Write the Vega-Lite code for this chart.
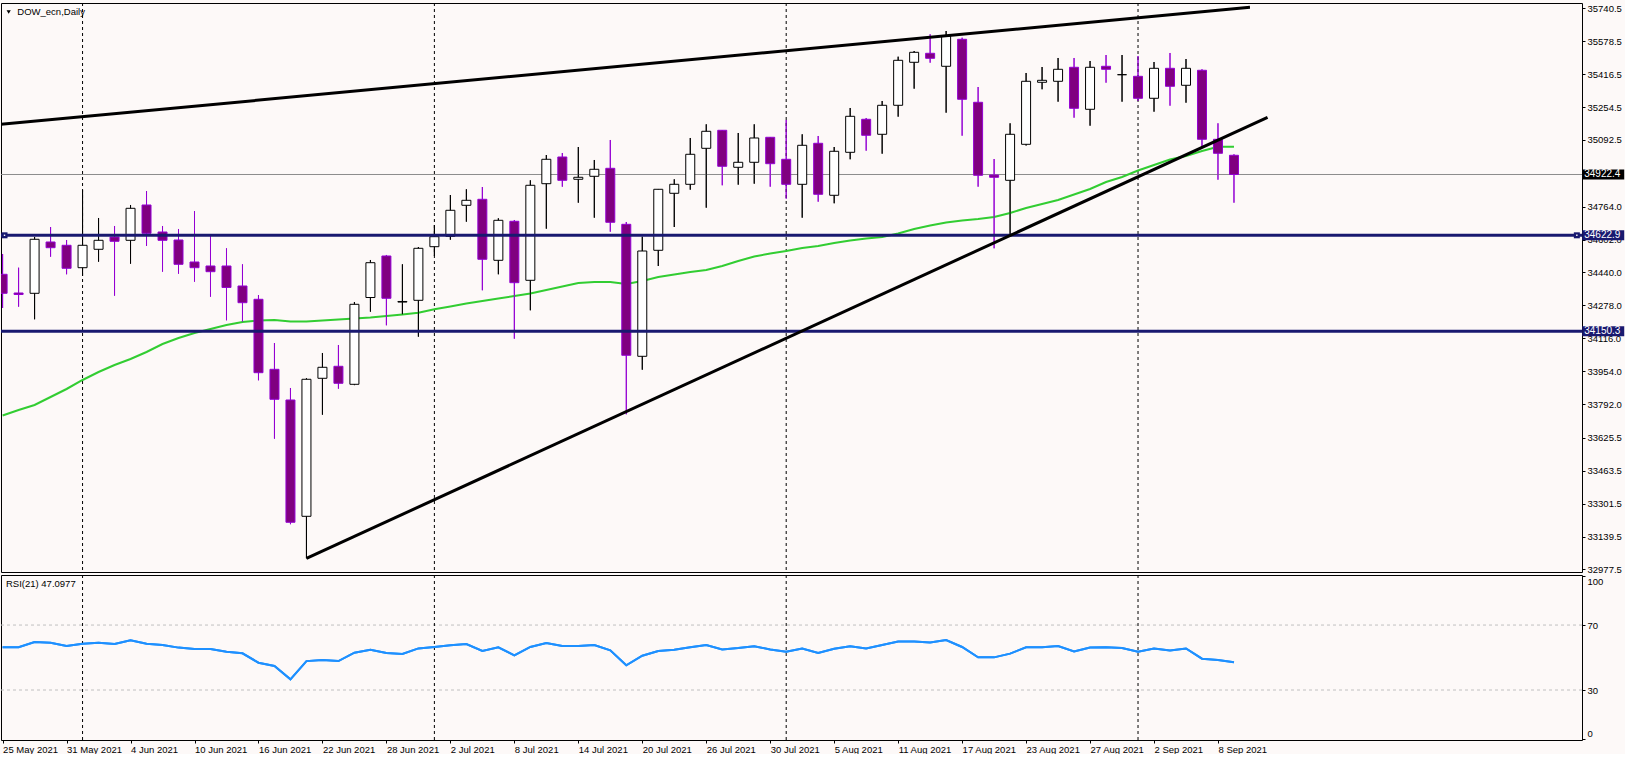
{
  "$schema": "https://vega.github.io/schema/vega-lite/v6.json",
  "background": "#FDF9F8",
  "padding": {"left": -1.0, "top": 2, "right": 0, "bottom": 0},
  "autosize": {"type": "pad"},
  "spacing": 3,
  "bounds": "flush",
  "config": {
    "view": {"stroke": "black", "strokeWidth": 1},
    "axis": {"labelFont": "Liberation Sans", "labelFontSize": 9.5, "labelColor": "black", "tickColor": "black", "tickWidth": 1, "grid": false, "domain": false, "labelOverlap": false, "labelBound": false},
    "scale": {"continuousPadding": 0},
    "text": {"font": "Liberation Sans"}
  },
  "datasets": {
    "bars": [
      {"i":0,"date":"2021-05-25","o":34430.9,"h":34530.9,"l":34264.9,"c":34337.3,"ma":33735.5,"rsi":56.3},
      {"i":1,"date":"2021-05-26","o":34338.8,"h":34463.4,"l":34271.3,"c":34331.4,"ma":33762.6,"rsi":56.3},
      {"i":2,"date":"2021-05-27","o":34337.3,"h":34614.6,"l":34209.3,"c":34603.3,"ma":33787.2,"rsi":59.5},
      {"i":3,"date":"2021-05-28","o":34590.0,"h":34663.8,"l":34517.6,"c":34561.9,"ma":33826.6,"rsi":59.1},
      {"i":4,"date":"2021-05-31","o":34573.7,"h":34599.8,"l":34430.9,"c":34460.4,"ma":33866.0,"rsi":57.1},
      {"i":5,"date":"2021-06-01","o":34463.4,"h":34846.1,"l":34422.5,"c":34573.7,"ma":33910.3,"rsi":58.5},
      {"i":6,"date":"2021-06-02","o":34554.0,"h":34708.2,"l":34492.9,"c":34598.3,"ma":33949.7,"rsi":59.1},
      {"i":7,"date":"2021-06-03","o":34614.6,"h":34668.8,"l":34325.5,"c":34593.4,"ma":33984.2,"rsi":58.3},
      {"i":8,"date":"2021-06-04","o":34598.3,"h":34772.2,"l":34483.1,"c":34755.9,"ma":34013.7,"rsi":60.6},
      {"i":9,"date":"2021-06-07","o":34772.2,"h":34841.1,"l":34570.3,"c":34632.8,"ma":34048.2,"rsi":58.5},
      {"i":10,"date":"2021-06-08","o":34639.2,"h":34668.8,"l":34443.7,"c":34598.3,"ma":34087.6,"rsi":57.7},
      {"i":11,"date":"2021-06-09","o":34599.8,"h":34654.0,"l":34433.8,"c":34480.1,"ma":34117.2,"rsi":56.1},
      {"i":12,"date":"2021-06-10","o":34491.5,"h":34742.6,"l":34394.4,"c":34463.4,"ma":34141.8,"rsi":55.2},
      {"i":13,"date":"2021-06-11","o":34471.8,"h":34624.4,"l":34320.6,"c":34443.7,"ma":34161.5,"rsi":55.2},
      {"i":14,"date":"2021-06-14","o":34471.8,"h":34558.9,"l":34204.3,"c":34365.9,"ma":34181.2,"rsi":53.6},
      {"i":15,"date":"2021-06-15","o":34373.3,"h":34480.1,"l":34197.4,"c":34291.0,"ma":34196.0,"rsi":52.6},
      {"i":16,"date":"2021-06-16","o":34307.8,"h":34328.9,"l":33908.8,"c":33946.3,"ma":34203.4,"rsi":46.8},
      {"i":17,"date":"2021-06-17","o":33963.0,"h":34092.5,"l":33621.2,"c":33815.3,"ma":34205.8,"rsi":44.8},
      {"i":18,"date":"2021-06-18","o":33811.8,"h":33870.9,"l":33200.0,"c":33209.5,"ma":34198.4,"rsi":36.6},
      {"i":19,"date":"2021-06-21","o":33239.0,"h":33918.7,"l":33032.2,"c":33913.8,"ma":34198.4,"rsi":47.8},
      {"i":20,"date":"2021-06-22","o":33918.7,"h":34043.3,"l":33739.4,"c":33972.9,"ma":34203.4,"rsi":48.5},
      {"i":21,"date":"2021-06-23","o":33977.8,"h":34082.7,"l":33867.5,"c":33894.1,"ma":34208.3,"rsi":47.8},
      {"i":22,"date":"2021-06-24","o":33889.1,"h":34294.5,"l":33885.0,"c":34283.1,"ma":34213.2,"rsi":53.0},
      {"i":23,"date":"2021-06-25","o":34316.6,"h":34501.3,"l":34246.7,"c":34488.0,"ma":34218.1,"rsi":54.8},
      {"i":24,"date":"2021-06-28","o":34521.0,"h":34526.0,"l":34179.7,"c":34312.7,"ma":34225.5,"rsi":52.8},
      {"i":25,"date":"2021-06-29","o":34294.0,"h":34480.1,"l":34233.9,"c":34297.0,"ma":34232.9,"rsi":52.2},
      {"i":26,"date":"2021-06-30","o":34302.8,"h":34565.3,"l":34123.6,"c":34558.9,"ma":34241.8,"rsi":55.6},
      {"i":27,"date":"2021-07-01","o":34566.8,"h":34673.7,"l":34521.0,"c":34616.1,"ma":34258.5,"rsi":56.5},
      {"i":28,"date":"2021-07-02","o":34618.0,"h":34821.4,"l":34601.3,"c":34746.1,"ma":34272.3,"rsi":57.5},
      {"i":29,"date":"2021-07-05","o":34770.7,"h":34849.5,"l":34689.9,"c":34795.3,"ma":34287.1,"rsi":58.3},
      {"i":30,"date":"2021-07-06","o":34800.3,"h":34860.8,"l":34352.1,"c":34504.8,"ma":34299.4,"rsi":54.0},
      {"i":31,"date":"2021-07-07","o":34499.8,"h":34706.7,"l":34430.9,"c":34696.8,"ma":34311.7,"rsi":56.3},
      {"i":32,"date":"2021-07-08","o":34691.9,"h":34698.3,"l":34113.7,"c":34389.5,"ma":34324.0,"rsi":51.3},
      {"i":33,"date":"2021-07-09","o":34401.3,"h":34893.8,"l":34253.6,"c":34869.2,"ma":34336.3,"rsi":56.5},
      {"i":34,"date":"2021-07-12","o":34877.1,"h":35018.4,"l":34655.5,"c":34997.3,"ma":34353.6,"rsi":58.9},
      {"i":35,"date":"2021-07-13","o":35008.6,"h":35028.3,"l":34862.3,"c":34893.8,"ma":34370.8,"rsi":57.1},
      {"i":36,"date":"2021-07-14","o":34898.8,"h":35057.8,"l":34783.5,"c":34908.6,"ma":34388.0,"rsi":57.1},
      {"i":37,"date":"2021-07-15","o":34913.5,"h":34993.8,"l":34709.6,"c":34948.0,"ma":34393.0,"rsi":57.7},
      {"i":38,"date":"2021-07-16","o":34952.9,"h":35092.3,"l":34640.7,"c":34687.0,"ma":34393.0,"rsi":54.4},
      {"i":39,"date":"2021-07-19","o":34677.1,"h":34688.5,"l":33741.4,"c":34032.0,"ma":34383.1,"rsi":45.2},
      {"i":40,"date":"2021-07-20","o":34027.0,"h":34616.1,"l":33961.0,"c":34545.6,"ma":34397.9,"rsi":51.1},
      {"i":41,"date":"2021-07-21","o":34549.1,"h":34851.0,"l":34471.8,"c":34849.5,"ma":34417.6,"rsi":54.0},
      {"i":42,"date":"2021-07-22","o":34829.8,"h":34898.8,"l":34663.8,"c":34874.1,"ma":34429.9,"rsi":54.8},
      {"i":43,"date":"2021-07-23","o":34874.1,"h":35102.2,"l":34847.5,"c":35021.9,"ma":34442.2,"rsi":56.3},
      {"i":44,"date":"2021-07-26","o":35051.4,"h":35169.6,"l":34758.9,"c":35135.2,"ma":34452.1,"rsi":57.7},
      {"i":45,"date":"2021-07-27","o":35140.1,"h":35141.5,"l":34869.2,"c":34962.8,"ma":34471.8,"rsi":55.0},
      {"i":46,"date":"2021-07-28","o":34957.9,"h":35126.8,"l":34872.2,"c":34982.5,"ma":34496.4,"rsi":55.8},
      {"i":47,"date":"2021-07-29","o":34982.5,"h":35169.6,"l":34877.1,"c":35102.2,"ma":34518.5,"rsi":56.9},
      {"i":48,"date":"2021-07-30","o":35105.6,"h":35107.1,"l":34862.3,"c":34975.6,"ma":34533.3,"rsi":55.0},
      {"i":49,"date":"2021-08-02","o":34997.3,"h":35190.8,"l":34803.2,"c":34874.1,"ma":34545.6,"rsi":53.6},
      {"i":50,"date":"2021-08-03","o":34874.1,"h":35120.4,"l":34709.6,"c":35066.2,"ma":34560.4,"rsi":55.6},
      {"i":51,"date":"2021-08-04","o":35076.1,"h":35112.0,"l":34788.4,"c":34824.9,"ma":34570.3,"rsi":52.8},
      {"i":52,"date":"2021-08-05","o":34820.0,"h":35057.8,"l":34780.6,"c":35036.7,"ma":34585.0,"rsi":55.4},
      {"i":53,"date":"2021-08-06","o":35031.7,"h":35249.9,"l":34997.3,"c":35209.0,"ma":34597.3,"rsi":56.9},
      {"i":54,"date":"2021-08-09","o":35194.3,"h":35200.7,"l":35039.6,"c":35115.5,"ma":34607.2,"rsi":55.6},
      {"i":55,"date":"2021-08-10","o":35120.4,"h":35284.4,"l":35024.8,"c":35263.2,"ma":34614.6,"rsi":57.7},
      {"i":56,"date":"2021-08-11","o":35263.2,"h":35502.6,"l":35207.1,"c":35484.8,"ma":34631.8,"rsi":59.9},
      {"i":57,"date":"2021-08-12","o":35475.0,"h":35530.6,"l":35345.0,"c":35524.2,"ma":34654.0,"rsi":59.9},
      {"i":58,"date":"2021-08-13","o":35519.3,"h":35612.9,"l":35473.0,"c":35494.7,"ma":34671.2,"rsi":59.3},
      {"i":59,"date":"2021-08-16","o":35455.3,"h":35629.1,"l":35226.8,"c":35604.5,"ma":34686.0,"rsi":60.8},
      {"i":60,"date":"2021-08-17","o":35588.3,"h":35596.1,"l":35113.5,"c":35292.8,"ma":34695.8,"rsi":56.5},
      {"i":61,"date":"2021-08-18","o":35278.0,"h":35353.3,"l":34862.3,"c":34918.5,"ma":34703.2,"rsi":50.1},
      {"i":62,"date":"2021-08-19","o":34919.9,"h":34998.7,"l":34558.9,"c":34908.6,"ma":34713.1,"rsi":50.1},
      {"i":63,"date":"2021-08-20","o":34893.8,"h":35174.6,"l":34619.5,"c":35120.4,"ma":34732.8,"rsi":52.4},
      {"i":64,"date":"2021-08-23","o":35071.1,"h":35422.3,"l":35065.0,"c":35381.4,"ma":34757.4,"rsi":56.3},
      {"i":65,"date":"2021-08-24","o":35376.5,"h":35451.8,"l":35342.0,"c":35386.3,"ma":34777.1,"rsi":56.3},
      {"i":66,"date":"2021-08-25","o":35381.4,"h":35496.2,"l":35280.9,"c":35440.5,"ma":34796.8,"rsi":57.1},
      {"i":67,"date":"2021-08-26","o":35450.4,"h":35496.2,"l":35202.1,"c":35248.4,"ma":34823.9,"rsi":53.8},
      {"i":68,"date":"2021-08-27","o":35243.5,"h":35481.4,"l":35162.7,"c":35450.4,"ma":34851.0,"rsi":56.1},
      {"i":69,"date":"2021-08-30","o":35455.3,"h":35510.9,"l":35374.5,"c":35440.5,"ma":34885.5,"rsi":56.3},
      {"i":70,"date":"2021-08-31","o":35413.9,"h":35510.9,"l":35280.9,"c":35413.9,"ma":34910.1,"rsi":55.8},
      {"i":71,"date":"2021-09-01","o":35406.0,"h":35506.0,"l":35284.4,"c":35297.7,"ma":34942.1,"rsi":53.6},
      {"i":72,"date":"2021-09-02","o":35297.7,"h":35476.5,"l":35231.7,"c":35445.4,"ma":34969.2,"rsi":55.6},
      {"i":73,"date":"2021-09-03","o":35445.4,"h":35520.8,"l":35261.2,"c":35356.8,"ma":34996.3,"rsi":54.4},
      {"i":74,"date":"2021-09-06","o":35361.7,"h":35491.2,"l":35276.0,"c":35445.4,"ma":35013.5,"rsi":55.6},
      {"i":75,"date":"2021-09-07","o":35435.6,"h":35440.5,"l":35054.4,"c":35095.8,"ma":35038.1,"rsi":49.3},
      {"i":76,"date":"2021-09-08","o":35095.8,"h":35174.6,"l":34896.8,"c":35026.8,"ma":35059.3,"rsi":48.5},
      {"i":77,"date":"2021-09-09","o":35017.0,"h":35021.9,"l":34783.5,"c":34922.4,"ma":35059.3,"rsi":47.1}
    ],
    "levels": [
      {"p": 34922.4, "kind": "price"},
      {"p": 34622.9, "kind": "line"},
      {"p": 34150.3, "kind": "line"}
    ],
    "trend": [
      {"line": "upper", "i": -0.1, "p": 35169.6},
      {"line": "upper", "i": 78, "p": 35745.9},
      {"line": "lower", "i": 19, "p": 33031.7},
      {"line": "lower", "i": 79.1, "p": 35204.1}
    ],
    "handles": [{"end": "left", "i": 0.12}, {"end": "right", "i": 98.44}],
    "rsiLevels": [{"v": 70}, {"v": 30}]
  },
  "resolve": {"scale": {"x": "independent", "y": "independent"}},
  "vconcat": [
    {
      "width": 1581,
      "height": 569,
      "layer": [
        {
          "data": {"name": "bars"},
          "mark": {"type": "rule", "strokeWidth": 1, "clip": true},
          "encoding": {
            "x": {"field": "i", "type": "quantitative", "scale": {"domain": [-0.1, 98.7625], "nice": false, "zero": false, "padding": 0}, "axis": null},
            "y": {
              "field": "l", "type": "quantitative",
              "scale": {"domain": [32964.7, 35767], "nice": false, "zero": false, "padding": 0},
              "axis": {
                "orient": "right", "title": null, "format": ".1f", "tickCount": 100,
                "values": [35740.5, 35578.5, 35416.5, 35254.5, 35092.5, 34930.5, 34764.0, 34602.0, 34440.0, 34278.0, 34116.0, 33954.0, 33792.0, 33625.5, 33463.5, 33301.5, 33139.5, 32977.5],
                "tickSize": 3, "labelPadding": 2, "labelFlush": false, "labelOverlap": false, "labelBound": false
              }
            },
            "y2": {"field": "h"},
            "stroke": {"condition": {"test": "datum.c >= datum.o", "value": "black"}, "value": "#9400D3"}
          }
        },
        {
          "data": {"name": "bars"},
          "transform": [{"filter": "indexof(['2021-06-01','2021-07-01','2021-08-02','2021-09-01'], datum.date) >= 0"}],
          "mark": {"type": "rule", "color": "black", "strokeDash": [3, 3], "strokeWidth": 1},
          "encoding": {
            "x": {"field": "i", "type": "quantitative", "axis": null}
          }
        },
        {
          "data": {"name": "levels"},
          "transform": [{"filter": "datum.kind == 'price'"}],
          "mark": {"type": "rule", "color": "#8C8C8C", "strokeWidth": 1},
          "encoding": {"y": {"field": "p", "type": "quantitative"}}
        },
        {
          "data": {"name": "bars"},
          "mark": {"type": "line", "color": "#32CD32", "strokeWidth": 2, "clip": true},
          "encoding": {
            "x": {"field": "i", "type": "quantitative", "axis": null},
            "y": {"field": "ma", "type": "quantitative"}
          }
        },
        {
          "data": {"name": "bars"},
          "mark": {"type": "rule", "strokeWidth": 1, "clip": true},
          "encoding": {
            "x": {"field": "i", "type": "quantitative", "axis": null},
            "y": {"field": "l", "type": "quantitative"},
            "y2": {"field": "h"},
            "stroke": {"condition": {"test": "datum.c >= datum.o", "value": "black"}, "value": "#9400D3"}
          }
        },
        {
          "data": {"name": "bars"},
          "mark": {"type": "bar", "width": 9, "strokeWidth": 1, "clip": true},
          "encoding": {
            "x": {"field": "i", "type": "quantitative", "axis": null},
            "y": {"field": "o", "type": "quantitative"},
            "y2": {"field": "c"},
            "fill": {"condition": {"test": "datum.c >= datum.o", "value": "#FFFFFF"}, "value": "#800080"},
            "stroke": {"condition": {"test": "datum.c >= datum.o", "value": "black"}, "value": "#9400D3"}
          }
        },
        {
          "data": {"name": "levels"},
          "transform": [{"filter": "datum.kind == 'line'"}],
          "mark": {"type": "rule", "color": "#191970", "strokeWidth": 3},
          "encoding": {"y": {"field": "p", "type": "quantitative"}}
        },
        {
          "data": {"name": "trend"},
          "mark": {"type": "line", "color": "black", "strokeWidth": 3, "clip": true},
          "encoding": {
            "x": {"field": "i", "type": "quantitative", "axis": null},
            "y": {"field": "p", "type": "quantitative"},
            "detail": {"field": "line"}
          }
        },
        {
          "data": {"name": "handles"},
          "mark": {"type": "square", "size": 36, "color": "#191970", "opacity": 1},
          "encoding": {
            "x": {"field": "i", "type": "quantitative", "axis": null},
            "y": {"datum": 34622.9, "type": "quantitative"}
          }
        },
        {
          "data": {"name": "handles"},
          "mark": {"type": "square", "size": 2, "color": "white", "opacity": 1},
          "encoding": {
            "x": {"field": "i", "type": "quantitative", "axis": null},
            "y": {"datum": 34622.9, "type": "quantitative"}
          }
        },
        {
          "data": {"name": "levels"},
          "mark": {"type": "tick", "orient": "horizontal", "thickness": 10, "size": 42, "opacity": 1},
          "encoding": {
            "x": {"datum": 100.09, "type": "quantitative", "axis": null},
            "y": {"field": "p", "type": "quantitative"},
            "color": {"condition": {"test": "datum.kind == 'price'", "value": "black"}, "value": "#191970"}
          }
        },
        {
          "data": {"name": "levels"},
          "mark": {"type": "text", "align": "left", "baseline": "middle", "color": "white", "fontSize": 10, "font": "Liberation Sans"},
          "encoding": {
            "x": {"datum": 98.9, "type": "quantitative", "axis": null},
            "y": {"field": "p", "type": "quantitative"},
            "text": {"field": "p", "type": "quantitative", "format": ".1f"}
          }
        },
        {
          "data": {"values": [{"icon": "menu"}]},
          "mark": {"type": "point", "shape": "triangle-down", "filled": true, "size": 18, "color": "black", "opacity": 1},
          "encoding": {
            "x": {"datum": 0.38, "type": "quantitative", "axis": null},
            "y": {"datum": 35722.7, "type": "quantitative"}
          }
        },
        {
          "data": {"values": [{"t": "DOW_ecn,Daily"}]},
          "mark": {"type": "text", "align": "left", "baseline": "middle", "fontSize": 9.5, "color": "black"},
          "encoding": {
            "x": {"datum": 0.92, "type": "quantitative", "axis": null},
            "y": {"datum": 35722.7, "type": "quantitative"},
            "text": {"field": "t"}
          }
        }
      ]
    },
    {
      "width": 1581,
      "height": 165,
      "layer": [
        {
          "data": {"name": "bars"},
          "mark": {"type": "line", "color": "#1E90FF", "strokeWidth": 2, "clip": true},
          "encoding": {
            "x": {
              "field": "i", "type": "quantitative",
              "scale": {"domain": [-0.1, 98.7625], "nice": false, "zero": false, "padding": 0},
              "axis": {
                "orient": "bottom", "title": null, "tickCount": 100,
                "values": [0, 4, 8, 12, 16, 20, 24, 28, 32, 36, 40, 44, 48, 52, 56, 60, 64, 68, 72, 76],
                "labelExpr": "['25 May 2021','31 May 2021','4 Jun 2021','10 Jun 2021','16 Jun 2021','22 Jun 2021','28 Jun 2021','2 Jul 2021','8 Jul 2021','14 Jul 2021','20 Jul 2021','26 Jul 2021','30 Jul 2021','5 Aug 2021','11 Aug 2021','17 Aug 2021','23 Aug 2021','27 Aug 2021','2 Sep 2021','8 Sep 2021'][round(datum.value / 4)]",
                "labelAlign": "left", "labelBaseline": "top", "tickSize": 3, "labelPadding": 1,
                "labelFlush": false, "labelOverlap": false, "labelBound": false
              }
            },
            "y": {
              "field": "rsi", "type": "quantitative",
              "scale": {"domain": [-0.77, 100.8], "nice": false, "zero": false, "padding": 0},
              "axis": {"orient": "right", "title": null, "values": [0, 30, 70, 100], "tickCount": 100, "tickSize": 3, "labelPadding": 2, "labelFlush": 3}
            }
          }
        },
        {
          "data": {"name": "rsiLevels"},
          "mark": {"type": "rule", "color": "#C0C0C0", "strokeDash": [3, 3], "strokeWidth": 1},
          "encoding": {
            "y": {"field": "v", "type": "quantitative"}
          }
        },
        {
          "data": {"name": "bars"},
          "transform": [{"filter": "indexof(['2021-06-01','2021-07-01','2021-08-02','2021-09-01'], datum.date) >= 0"}],
          "mark": {"type": "rule", "color": "black", "strokeDash": [3, 3], "strokeWidth": 1},
          "encoding": {
            "x": {"field": "i", "type": "quantitative"}
          }
        },
        {
          "data": {"name": "bars"},
          "mark": {"type": "line", "color": "#1E90FF", "strokeWidth": 2, "clip": true},
          "encoding": {
            "x": {"field": "i", "type": "quantitative"},
            "y": {"field": "rsi", "type": "quantitative"}
          }
        },
        {
          "data": {"values": [{"t": "RSI(21) 47.0977"}]},
          "mark": {"type": "text", "align": "left", "baseline": "middle", "fontSize": 9.5, "color": "black"},
          "encoding": {
            "x": {"datum": 0.21, "type": "quantitative"},
            "y": {"datum": 95, "type": "quantitative"},
            "text": {"field": "t"}
          }
        }
      ]
    }
  ]
}
